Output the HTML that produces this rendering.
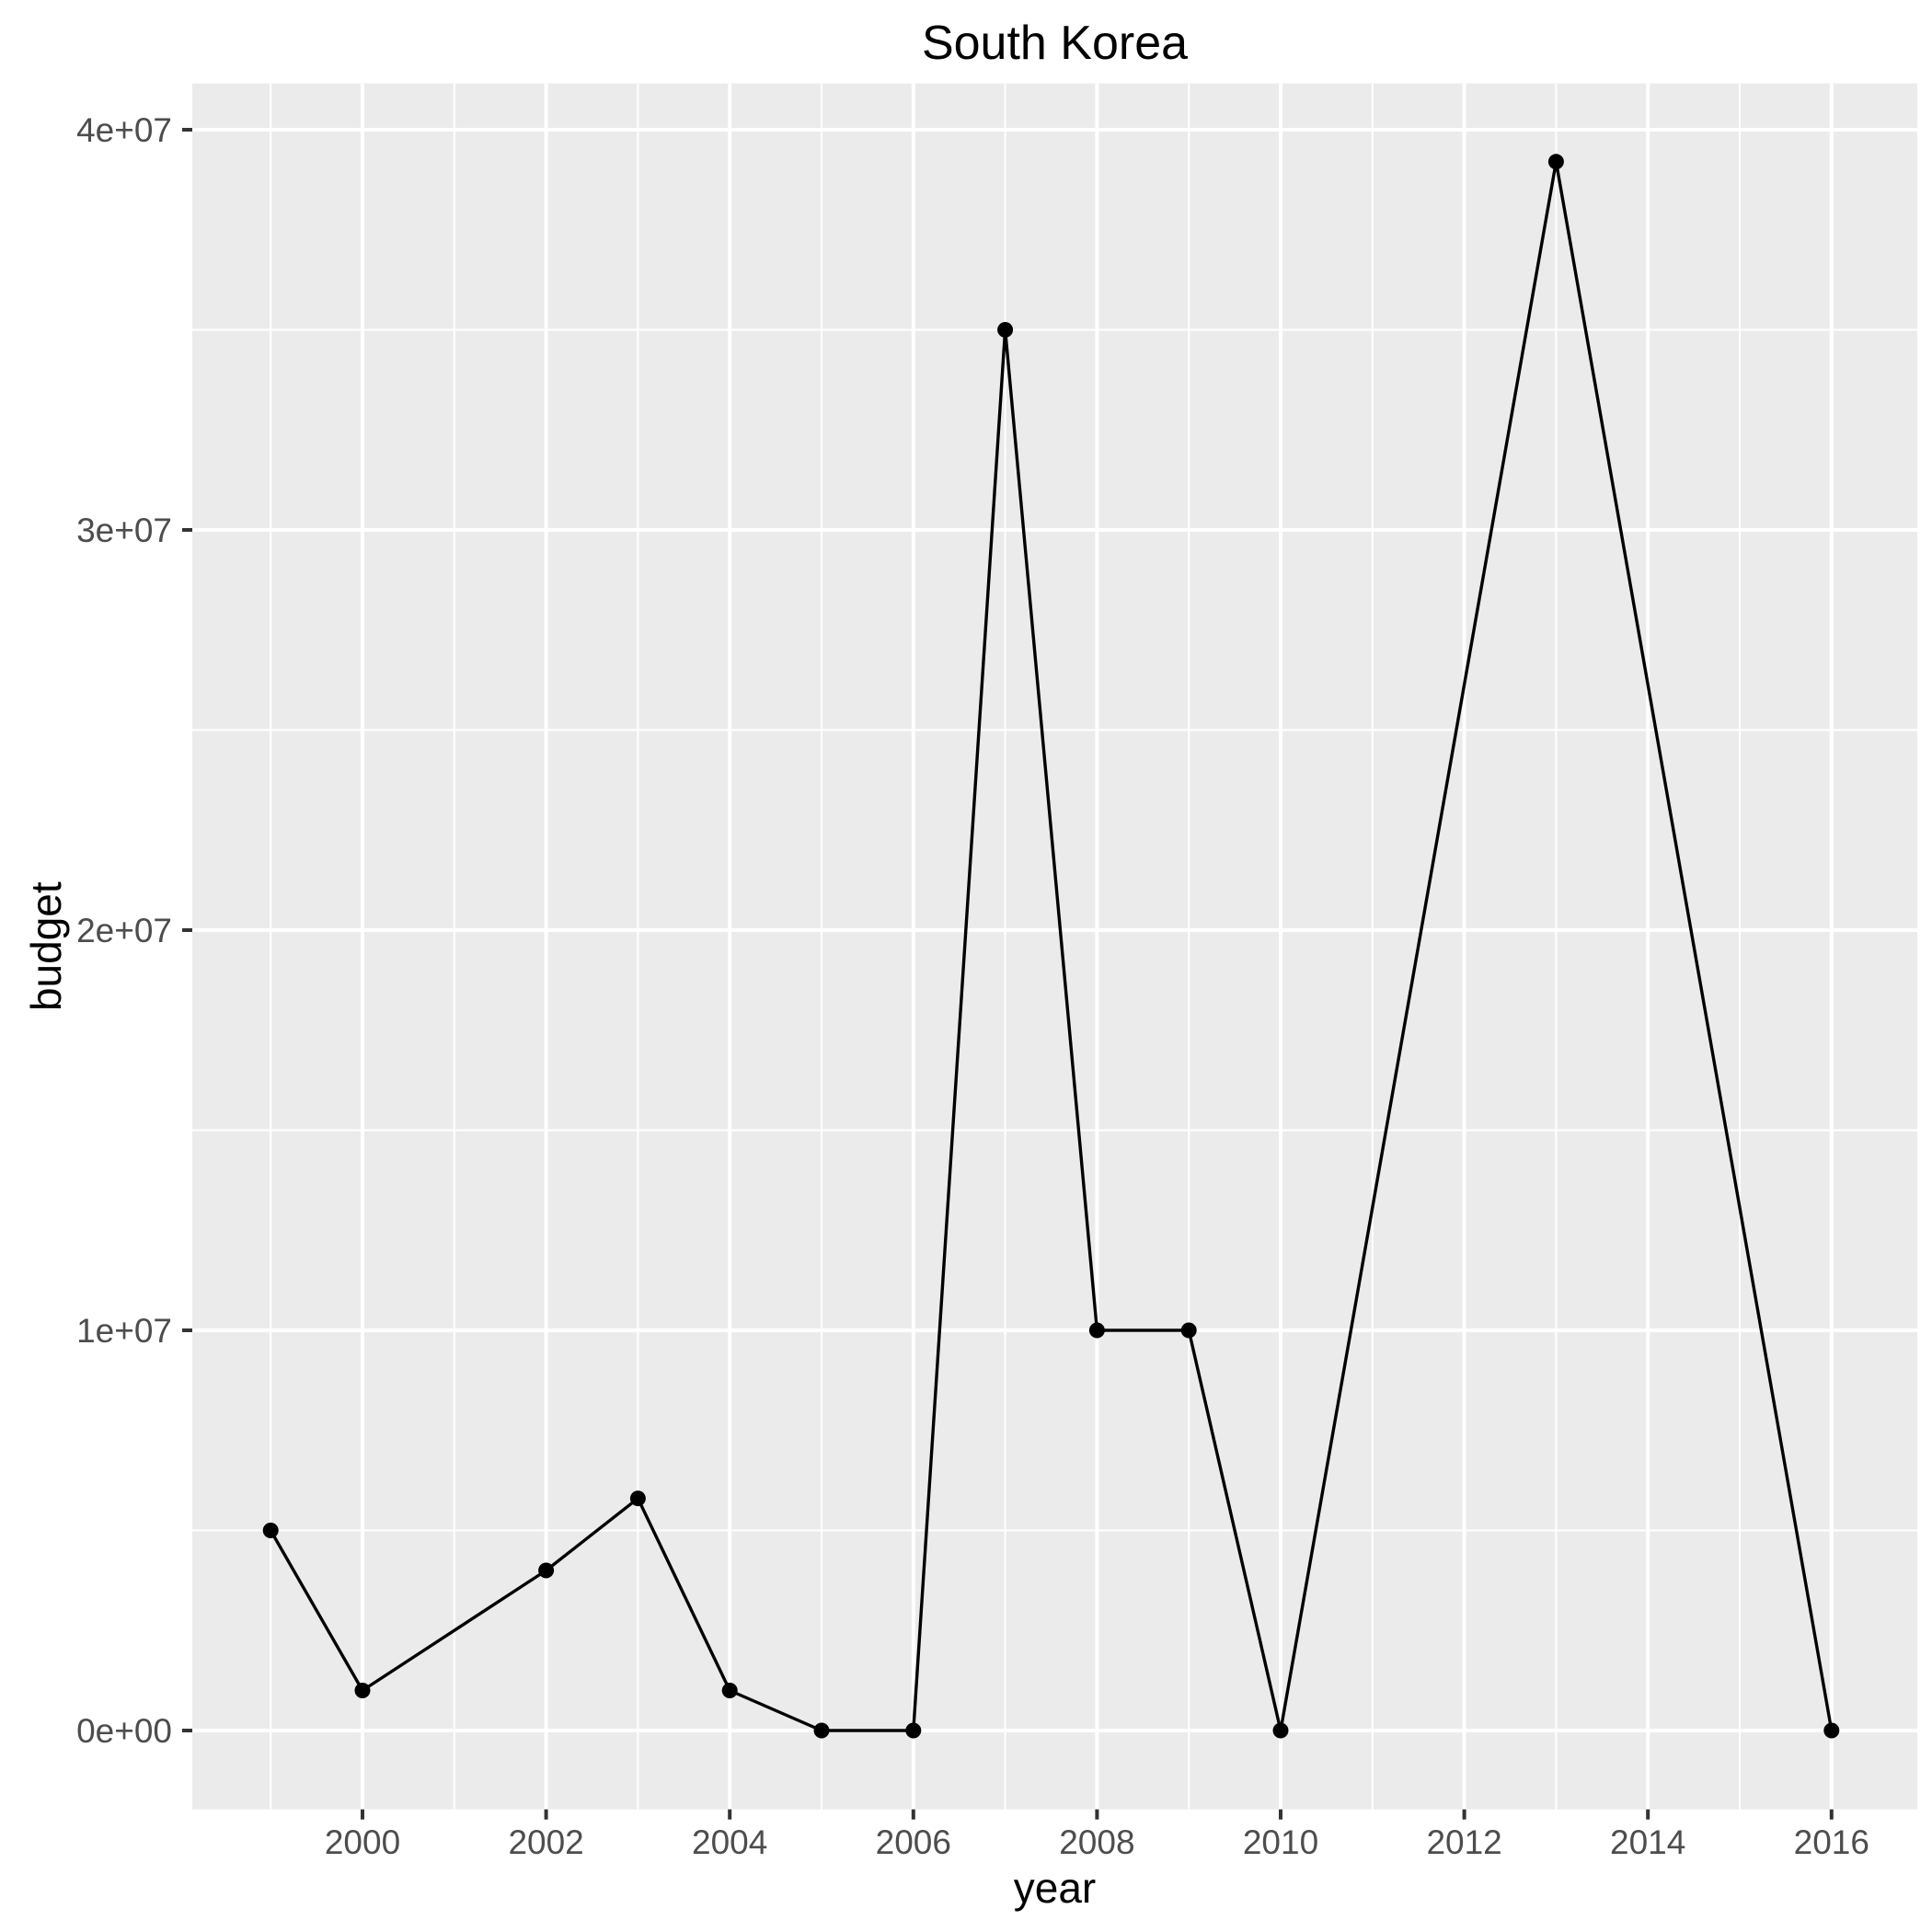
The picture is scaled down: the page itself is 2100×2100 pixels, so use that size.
<!DOCTYPE html>
<html><head><meta charset="utf-8"><style>
html,body{margin:0;padding:0;background:#fff;}
svg{display:block;font-family:"Liberation Sans",Arial,sans-serif;}
</style></head><body>
<svg id="chart" width="2100" height="2100" viewBox="0 0 2100 2100">
<rect x="0" y="0" width="2100" height="2100" fill="#fff"/>
<rect x="209" y="90.7" width="1875" height="1876" fill="#EBEBEB"/>
<g id="grid"></g>
<g id="series"></g>
<g id="axes"></g>
<text x="1146.5" y="64" text-anchor="middle" font-size="52" fill="#000">South Korea</text>
<text x="1146.5" y="2068" text-anchor="middle" font-size="46" fill="#000">year</text>
<text transform="translate(66,1028.7) rotate(-90)" text-anchor="middle" font-size="46" fill="#000">budget</text>
</svg>
<script>
const years = [1999,2000,2002,2003,2004,2005,2006,2007,2008,2009,2010,2013,2016];
const budgets = [5e6,1e6,4e6,5.8e6,1e6,0,0,35e6,10e6,10e6,0,39.2e6,0];
const xTicks = [2000,2002,2004,2006,2008,2010,2012,2014,2016];
const xMinor = [1999,2001,2003,2005,2007,2009,2011,2013,2015];
const yTicks = [0,1e7,2e7,3e7,4e7];
const yTickLabels = ["0e+00","1e+07","2e+07","3e+07","4e+07"];
const yMinor = [5e6,1.5e7,2.5e7,3.5e7];

const NS="http://www.w3.org/2000/svg";
const PL=209, PR=2084, PT=90.7, PB=1966.7;
function xs(v){return 394+(v-2000)*99.8;}
function ys(v){return 1881-(v/1e7)*435;}
function mk(tag,attrs,parent){const e=document.createElementNS(NS,tag);for(const k in attrs)e.setAttribute(k,attrs[k]);parent.appendChild(e);return e;}
const grid=document.getElementById('grid'), series=document.getElementById('series'), axes=document.getElementById('axes');

yMinor.forEach(v=>{const l=mk('line',{x1:PL,x2:PR,y1:ys(v),y2:ys(v),stroke:'#fff','stroke-width':2},grid);

});
xMinor.forEach(v=>{const l=mk('line',{x1:xs(v),x2:xs(v),y1:PT,y2:PB,stroke:'#fff','stroke-width':2},grid);

});
yTicks.forEach((v,i)=>{const l=mk('line',{x1:PL,x2:PR,y1:ys(v),y2:ys(v),stroke:'#fff','stroke-width':4},grid);


const t=mk('line',{x1:PL-11,x2:PL,y1:ys(v),y2:ys(v),stroke:'#333','stroke-width':4},axes);


const tx=mk('text',{x:187,y:ys(v)+13,'text-anchor':'end','font-size':37,fill:'#4D4D4D'},axes);
tx.textContent=yTickLabels[i];

});
xTicks.forEach(v=>{const l=mk('line',{x1:xs(v),x2:xs(v),y1:PT,y2:PB,stroke:'#fff','stroke-width':4},grid);


const t=mk('line',{x1:xs(v),x2:xs(v),y1:PB,y2:PB+11,stroke:'#333','stroke-width':4},axes);


const tx=mk('text',{x:xs(v),y:2015,'text-anchor':'middle','font-size':37,fill:'#4D4D4D'},axes);
tx.textContent=String(v);

});

const pts=years.map((y,i)=>xs(y)+','+ys(budgets[i])).join(' ');
const line=mk('polyline',{points:pts,fill:'none',stroke:'#000','stroke-width':3.4,'stroke-linejoin':'round'},series);


years.forEach((y,i)=>{const c=mk('circle',{cx:xs(y),cy:ys(budgets[i]),r:8.5,fill:'#000'},series);

});
</script>
</body></html>
